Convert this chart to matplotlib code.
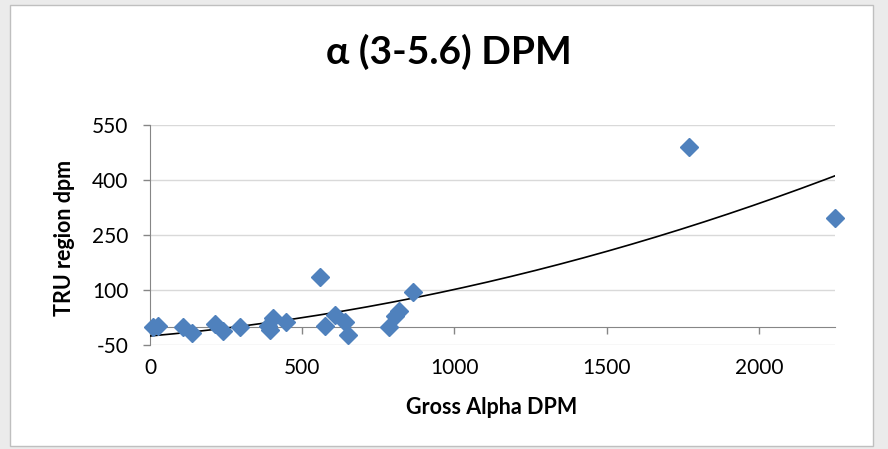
import numpy as np
import matplotlib.pyplot as plt
from matplotlib.patches import Rectangle

# Gross alpha DPM vs TRU region dpm
gross_alpha = [11, 26, 110, 137, 214, 241, 296, 389, 395, 403, 447,
               557, 576, 608, 641, 652, 784, 806, 817, 864, 1770, 2250]
tru_dpm = [0, 3, -2, -16, 6, -11, -2, 3, -8, 24, 14,
           135, 3, 31, 12, -22, 0, 28, 44, 95, 490, 296]

x_ticks = [0, 500, 1000, 1500, 2000]
y_ticks = [-50, 100, 250, 400, 550]

title = "\u03b1 (3-5.6) DPM"
x_title = "Gross Alpha DPM"
y_title = "TRU region dpm"

blue = "#4f81bd"
axis_grey = "#868686"
grid_grey = "#d9d9d9"

plt.rcParams["axes.unicode_minus"] = False

fig = plt.figure(figsize=(8.88, 4.49), dpi=100, facecolor="#ebebeb")
fig.patches.append(Rectangle((10 / 888, 3 / 449), 863 / 888, 441 / 449,
                             transform=fig.transFigure, facecolor="white",
                             edgecolor="#bfbfbf", lw=1, zorder=-5))

ax = fig.add_axes([150 / 888, 1 - 345 / 449, 685 / 888, 220 / 449])
ax.set_facecolor("none")
ax.set_xlim(0, 2250)
ax.set_ylim(-50, 550)

# 2nd order polynomial trend line like Excel's
coef = np.polyfit(gross_alpha, tru_dpm, 2)
xs = np.linspace(0, 2250, 200)
ax.plot(xs, np.polyval(coef, xs), color="black", lw=1.2, zorder=3)

ax.plot(gross_alpha, tru_dpm, "D", color=blue, ms=9, mec=blue, zorder=4,
        clip_on=False)

ax.set_yticks(y_ticks)
ax.grid(axis="y", color=grid_grey, lw=1)
ax.set_axisbelow(True)
ax.tick_params(axis="y", direction="out", length=5, color=axis_grey,
               width=1, pad=10.5, labelsize=15)
for lab in ax.get_yticklabels():
    lab.set_fontfamily("Lato")

# horizontal axis crosses at y = 0, labels sit at the bottom
for s in ["top", "right"]:
    ax.spines[s].set_visible(False)
ax.spines["left"].set_color(axis_grey)
ax.spines["bottom"].set_position(("data", 0))
ax.spines["bottom"].set_color(axis_grey)
ax.set_xticks(x_ticks)
ax.tick_params(axis="x", direction="out", length=5, color=axis_grey,
               width=1, labelbottom=False)

sec = ax.secondary_xaxis(0.0)
sec.set_xticks(x_ticks)
sec.spines["bottom"].set_visible(False)
sec.tick_params(axis="x", length=0, pad=9, labelsize=15)
for lab in sec.get_xticklabels():
    lab.set_fontfamily("Lato")

fig.text(449 / 888, 1 - 52 / 449, title, ha="center", va="center",
         fontsize=28, fontweight="bold", family=["Lato", "DejaVu Sans"])
fig.text(492 / 888, 1 - 408 / 449, x_title, ha="center", va="center",
         fontsize=15.5, fontweight="bold", family="Lato")
fig.text(64 / 888, 1 - 238 / 449, y_title, ha="center", va="center",
         rotation=90, fontsize=15.5, fontweight="bold", family="Lato")

fig.savefig("out.png", dpi=100, facecolor=fig.get_facecolor())
